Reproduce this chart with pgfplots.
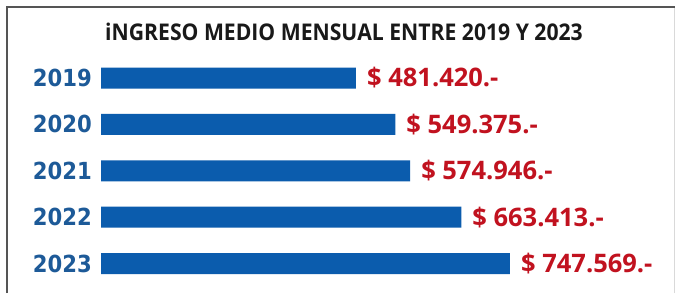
\documentclass[border=0pt]{standalone}
\usepackage{fontspec}
\setmainfont{Open Sans}
\newfontfamily\titlefont[FakeStretch=0.92]{Open Sans}
\newfontfamily\yearfont[FakeStretch=0.9]{DejaVu Sans}
\usepackage{pgfplots}
\pgfplotsset{compat=1.18}
\definecolor{barblue}{HTML}{0B5CAD}
\definecolor{yearblue}{HTML}{1D5A98}
\definecolor{valred}{HTML}{C1121F}
\definecolor{framegray}{HTML}{555555}
\begin{document}
\begin{tikzpicture}[x=1bp,y=1bp]
\useasboundingbox (0,0) rectangle (675,293);
\fill[white] (0,0) rectangle (675,293);
\draw[framegray, line width=1.6bp] (7,0) -- (7,286) -- (675,286);
\draw[black!15, line width=0.8bp] (674,0) -- (674,285);
\node[anchor=base, inner sep=0pt, text=black!90] at (344,253)
  {\titlefont\fontsize{23bp}{23bp}\selectfont\bfseries iNGRESO MEDIO MENSUAL ENTRE 2019 Y 2023};
\begin{axis}[
  at={(101bp,6.2bp)}, anchor=south west,
  scale only axis, width=574bp, height=232bp,
  xmin=40800, xmax=1032850,
  ymin=-0.5, ymax=4.5,
  xbar, bar width=21bp, bar shift=0pt,
  axis x line=none,
  axis y line=left,
  y axis line style={draw=none},
  ytick={0,1,2,3,4},
  yticklabels={2023,2022,2021,2020,2019},
  major tick length=0pt,
  yticklabel style={font=\yearfont\bfseries\fontsize{23.5bp}{23.5bp}\selectfont, text=yearblue, inner sep=0pt, xshift=-9bp},
  clip=false,
  point meta=x,
  nodes near coords={\$ \pgfmathprintnumber[fixed,precision=0,1000 sep={.},assume math mode=true]{\pgfplotspointmeta}.-},
  every node near coord/.append style={font=\bfseries\fontsize{25.5bp}{25.5bp}\selectfont, text=valred, anchor=west, inner sep=0pt, xshift=11bp},
]
\addplot[fill=barblue, draw=none] coordinates {
  (481420,4) (549375,3) (574946,2) (663413,1) (747569,0)
};
\end{axis}
\end{tikzpicture}
\end{document}
